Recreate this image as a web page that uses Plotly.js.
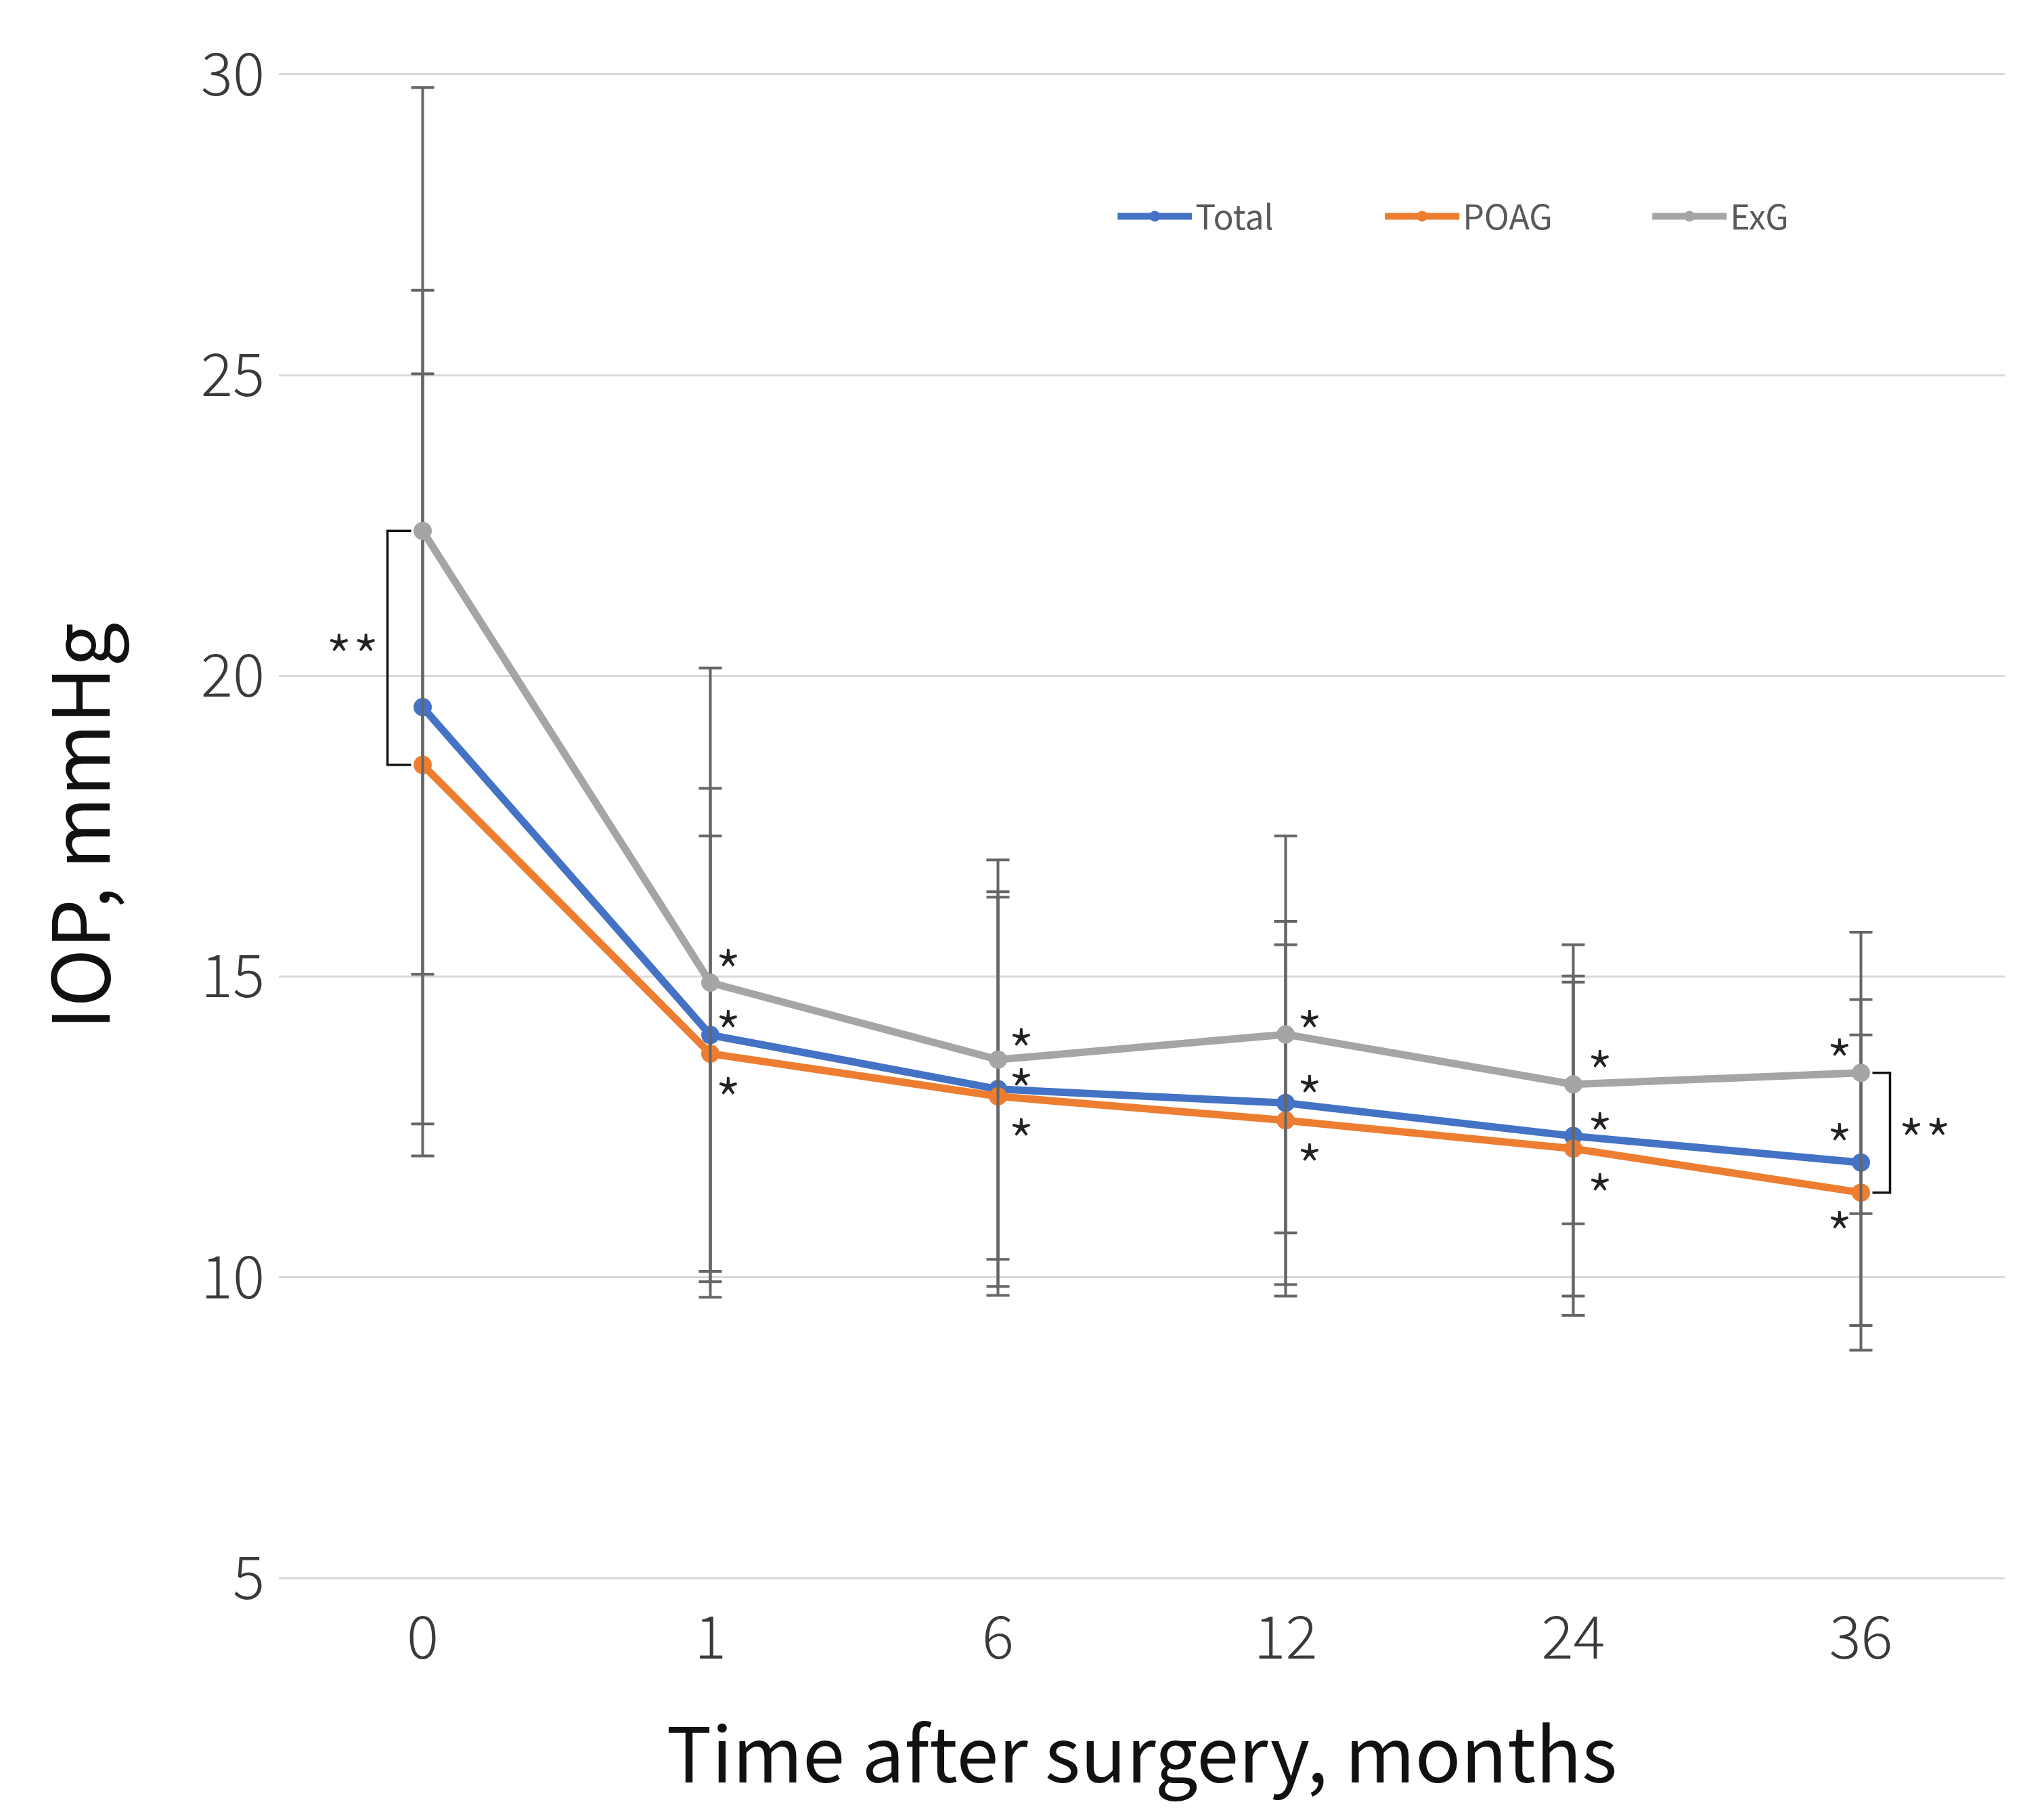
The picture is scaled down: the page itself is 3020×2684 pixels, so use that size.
<!DOCTYPE html>
<html>
<head>
<meta charset="utf-8">
<script src="https://cdn.plot.ly/plotly-3.0.1.min.js"></script>
<style>html,body{margin:0;padding:0;background:#fff;}#chart{width:3020px;height:2684px;}</style>
</head>
<body>
<div id="chart"></div>
<script>
// ---- data ----
var months = ['0', '1', '6', '12', '24', '36'];
var seriesNames = ['Total', 'POAG', 'ExG'];
var totalMean = [19.48, 14.03, 13.13, 12.90, 12.35, 11.91];
var totalSD   = [6.93, 4.10, 3.28, 3.02, 2.66, 2.71];
var poagMean  = [18.52, 13.72, 13.01, 12.61, 12.14, 11.41];
var poagSD    = [6.50, 3.62, 3.31, 2.92, 2.77, 2.62];
var exgMean   = [22.41, 14.90, 13.62, 14.04, 13.21, 13.40];
var exgSD     = [7.37, 5.23, 3.32, 3.30, 2.32, 2.34];
// significance marks "*" (y positions)
var starExG   = [null, 15.32, 14.01, 14.31, 13.65, 13.84];
var starTotal = [null, 14.31, 13.34, 13.23, 12.61, 12.43];
var starPOAG  = [null, 13.19, 12.51, 12.09, 11.60, 10.97];
var starShift = [0, 26, 34, 35, 39, -32];
var yTicks = [5, 10, 15, 20, 25, 30];

var colors = ['#4472C4', '#ED7D31', '#A5A5A5'];
var means = [totalMean, poagMean, exgMean];
var sds = [totalSD, poagSD, exgSD];
var FONT = '"Noto Sans CJK JP", "Noto Sans", sans-serif';
var STAR = 90, STARSHIFT = -20;
var starFont = {family: FONT, size: STAR, color: '#222222', weight: 300};

var traces = seriesNames.map(function (name, i) {
  return {
    type: 'scatter', mode: 'lines+markers', name: name,
    x: months, y: means[i],
    line: {color: colors[i], width: 11},
    marker: {color: colors[i], size: 27},
    error_y: {type: 'data', array: sds[i], visible: true, color: '#666666', thickness: 4, width: 17}
  };
});

var annotations = [];
[starExG, starTotal, starPOAG].forEach(function (arr) {
  arr.forEach(function (v, k) {
    if (v === null) return;
    annotations.push({x: k, y: v, xref: 'x', yref: 'y', text: '*', showarrow: false,
      xshift: starShift[k], yshift: STARSHIFT, font: starFont});
  });
});
var last = months.length - 1;
// "**" next to the brackets
annotations.push({x: 0, y: (exgMean[0] + poagMean[0]) / 2 + 0.1, xref: 'x', yref: 'y', text: '**',
  showarrow: false, xshift: -104, yshift: STARSHIFT, font: starFont});
annotations.push({x: last, y: (exgMean[last] + poagMean[last]) / 2 + 0.12, xref: 'x', yref: 'y', text: '**',
  showarrow: false, xshift: 94, yshift: STARSHIFT, font: starFont});

function bracket(k, yTop, yBot, side) {
  // side = -1 : bracket to the left of the point, +1 : to the right
  var outer = side * (side < 0 ? 52 : 43);
  var inner = side * 17;
  return {
    type: 'path', xref: 'x', yref: 'y', xsizemode: 'pixel', xanchor: k,
    path: 'M' + inner + ',' + yTop + ' L' + outer + ',' + yTop + ' L' + outer + ',' + yBot + ' L' + inner + ',' + yBot,
    line: {color: '#111111', width: 3.5}
  };
}
var shapes = [
  bracket(0, exgMean[0], poagMean[0], -1),
  bracket(last, exgMean[last], poagMean[last], 1)
];

var layout = {
  width: 3020, height: 2684,
  paper_bgcolor: '#ffffff', plot_bgcolor: '#ffffff',
  margin: {l: 412, r: 58, t: 108, b: 351, pad: 0},
  font: {family: FONT, color: '#333333'},
  showlegend: true,
  legend: {
    orientation: 'h', x: 0.484, xanchor: 'left', y: 0.905, yanchor: 'middle',
    font: {family: FONT, size: 50, color: '#595959'},
    itemwidth: 110, entrywidth: 270, bgcolor: 'rgba(0,0,0,0)'
  },
  xaxis: {
    type: 'category', categoryorder: 'array', categoryarray: months,
    range: [-0.5, months.length - 0.5], autorange: false,
    showgrid: false, zeroline: false, showline: false, ticks: '',
    tickfont: {family: FONT, size: 88, color: '#3a3a3a', weight: 300},
    ticklabelstandoff: 28,
    title: {text: 'Time after surgery, months', font: {family: FONT, size: 112, color: '#111111'}, standoff: 80}
  },
  yaxis: {
    range: [4.98, 30.02], autorange: false, tickvals: yTicks, ticktext: yTicks.map(String),
    showgrid: true, gridcolor: '#D9D9D9', gridwidth: 3,
    zeroline: false, showline: false, ticks: '',
    tickfont: {family: FONT, size: 88, color: '#3a3a3a', weight: 300},
    ticklabelstandoff: 20,
    title: {text: 'IOP, mmHg', font: {family: FONT, size: 116, color: '#111111'}, standoff: 95}
  },
  annotations: annotations,
  shapes: shapes
};

Plotly.newPlot('chart', traces, layout, {displayModeBar: false, staticPlot: true});
</script>
</body>
</html>
